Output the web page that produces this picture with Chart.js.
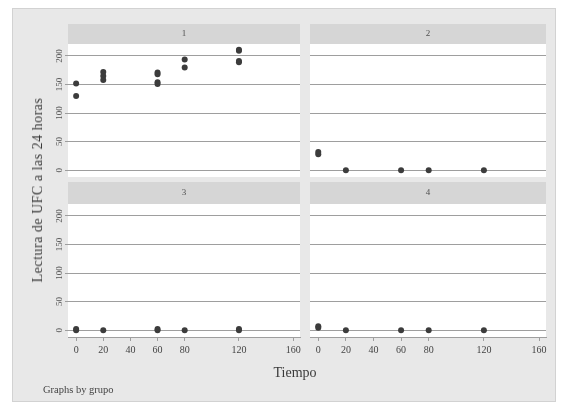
<!DOCTYPE html>
<html>
<head>
<meta charset="utf-8">
<script src="https://cdn.jsdelivr.net/npm/chart.js@4/dist/chart.umd.min.js"></script>
<style>
  html, body { margin: 0; padding: 0; background: #ffffff; }
  #page { position: relative; width: 563px; height: 405px; overflow: hidden; font-family: "Liberation Serif", "DejaVu Serif", serif; color: #3a3a3a; }
  #frame { position: absolute; left: 12px; top: 8px; width: 542px; height: 392px; background: #e8e8e8; border: 1px solid #d2d2d2; }
  canvas { position: absolute; left: 0; top: 0; }
  .txt { position: absolute; white-space: nowrap; }
  #ytitle { left: 38px; top: 190px; font-size: 14px; letter-spacing: 0.5px; transform: translate(-50%, -50%) rotate(-90deg); }
  #xtitle { left: 295px; top: 373px; font-size: 14px; transform: translate(-50%, -50%); }
  #note { left: 43px; top: 389px; font-size: 10.5px; transform: translateY(-50%); color: #444; }
</style>
</head>
<body>
<div id="page">
  <div id="frame"></div>
  <canvas id="g1" width="563" height="405"></canvas>
  <canvas id="g2" width="563" height="405"></canvas>
  <canvas id="g3" width="563" height="405"></canvas>
  <canvas id="g4" width="563" height="405"></canvas>
  <div class="txt" id="ytitle">Lectura de UFC a las 24 horas</div>
  <div class="txt" id="xtitle">Tiempo</div>
  <div class="txt" id="note">Graphs by grupo</div>
</div>
<script>
// Lecturas de UFC por grupo (tiempo, lectura)
const grupos = ['1', '2', '3', '4'];
const xTicks = [0, 20, 40, 60, 80, 120, 160];
const yTicks = [0, 50, 100, 150, 200];

const tiempo1  = [0, 0, 20, 20, 20, 60, 60, 60, 60, 80, 80, 120, 120, 120, 120];
const lectura1 = [152, 130, 172, 165, 158, 171, 168, 154, 151, 194, 180, 211, 209, 191, 189];

const tiempo2  = [0, 0, 20, 60, 80, 120];
const lectura2 = [32, 28, 0, 0, 0, 0];

const tiempo3  = [0, 0, 20, 60, 60, 80, 120, 120];
const lectura3 = [2, 0, 0, 2, 0, 0, 2, 0];

const tiempo4  = [0, 0, 20, 60, 80, 120];
const lectura4 = [7, 4, 0, 0, 0, 0];

const FONT = '"Liberation Serif", "DejaVu Serif", serif';
const GRID = '#9e9e9e';
const MARK = '#3c3c3c';

// grey strip with the group name above each plot region, white plot background
const panelPlugin = {
  id: 'panelStrip',
  beforeDraw(chart, args, opts) {
    const { ctx, chartArea: a } = chart;
    ctx.save();
    ctx.fillStyle = '#ffffff';
    ctx.fillRect(a.left, a.top, a.right - a.left, a.bottom - a.top);
    ctx.fillStyle = '#d6d6d6';
    ctx.fillRect(a.left, a.top - opts.height, a.right - a.left, opts.height);
    ctx.fillStyle = '#505050';
    ctx.font = '9px ' + FONT;
    ctx.textAlign = 'center';
    ctx.textBaseline = 'middle';
    ctx.fillText(opts.label, (a.left + a.right) / 2, a.top - opts.height / 2);
    ctx.restore();
  }
};

function panel(id, xs, ys, label, box, showX, showY) {
  const yW = showY ? 14 : 0;
  const xH = showX ? 22 : 0;
  const points = xs.map((t, i) => ({ x: t, y: ys[i] }));
  return new Chart(document.getElementById(id), {
    type: 'scatter',
    data: { datasets: [{ data: points, backgroundColor: MARK, borderWidth: 0, pointRadius: 3, pointHoverRadius: 3 }] },
    plugins: [panelPlugin],
    options: {
      responsive: false,
      animation: false,
      devicePixelRatio: 1,
      events: [],
      layout: { padding: { left: box.left - yW, top: box.top, right: 563 - box.right, bottom: 405 - box.bottom - xH } },
      plugins: {
        legend: { display: false },
        tooltip: { enabled: false },
        panelStrip: { label: label, height: box.strip }
      },
      scales: {
        x: {
          type: 'linear', min: -6, max: 165,
          display: showX,
          afterBuildTicks: s => { s.ticks = xTicks.map(v => ({ value: v })); },
          afterFit: s => { s.height = xH; },
          border: { display: true, color: GRID, width: 1 },
          grid: { drawOnChartArea: false, drawTicks: true, tickLength: 4, color: GRID },
          ticks: { font: { family: FONT, size: 10 }, color: '#444', padding: 3, maxRotation: 0, autoSkip: false }
        },
        y: {
          type: 'linear', min: -12, max: 221,
          afterBuildTicks: s => { s.ticks = yTicks.map(v => ({ value: v })); },
          afterFit: s => { s.width = yW; },
          border: { display: false },
          grid: { drawOnChartArea: true, drawTicks: showY, tickLength: 3, color: GRID, lineWidth: 1 },
          ticks: {
            display: showY, minRotation: 90, maxRotation: 90, crossAlign: 'center', padding: -1,
            font: { family: FONT, size: 9 }, color: '#555'
          }
        }
      }
    }
  });
}

panel('g1', tiempo1, lectura1, grupos[0], { left: 68, right: 300, top: 44, bottom: 177, strip: 20 }, false, true);
panel('g2', tiempo2, lectura2, grupos[1], { left: 310, right: 546, top: 44, bottom: 177, strip: 20 }, false, false);
panel('g3', tiempo3, lectura3, grupos[2], { left: 68, right: 300, top: 204, bottom: 337, strip: 22 }, true, true);
panel('g4', tiempo4, lectura4, grupos[3], { left: 310, right: 546, top: 204, bottom: 337, strip: 22 }, true, false);
</script>
</body>
</html>
